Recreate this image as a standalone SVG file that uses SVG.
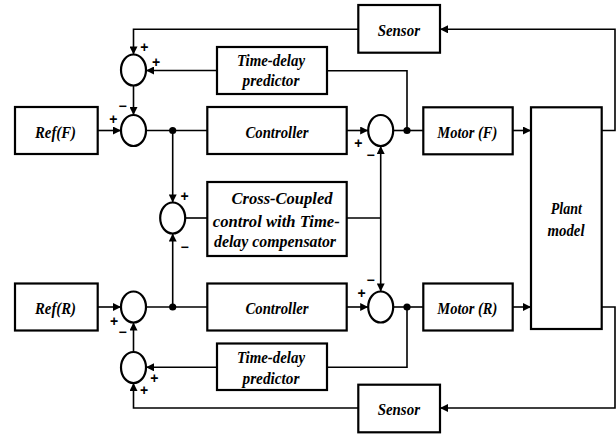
<svg xmlns="http://www.w3.org/2000/svg" width="616" height="434" viewBox="0 0 616 434">
<style>
.box{fill:#fff;stroke:#000;stroke-width:2.2}
.sum{fill:#fff;stroke:#000;stroke-width:2.2}
.ln{fill:none;stroke:#000;stroke-width:1.6}
.t{font-family:"Liberation Serif","Times New Roman",serif;font-weight:bold;font-style:italic;font-size:17px;text-anchor:middle;fill:#000}
.s{font-family:"Liberation Sans",Arial,sans-serif;font-weight:bold;font-size:14px;text-anchor:middle;fill:#000}
</style>
<defs>
<marker id="ah" viewBox="0 0 10 10" refX="10" refY="5" markerWidth="9" markerHeight="8" orient="auto" markerUnits="userSpaceOnUse"><path d="M0,0 L10,5 L0,10 z" fill="#000"/></marker>
</defs>
<rect width="616" height="434" fill="#fff"/>
<g id="connectors">
<path class="ln" d="M97.7,130.5 H121" marker-end="url(#ah)"/>
<path class="ln" d="M146,130.5 H207.3"/>
<path class="ln" d="M346.7,130.5 H368.2" marker-end="url(#ah)"/>
<path class="ln" d="M393.2,130.5 H423.3"/>
<path class="ln" d="M512.7,130.5 H531" marker-end="url(#ah)"/>
<path class="ln" d="M601.7,130.5 H615 V29.3 H440" marker-end="url(#ah)"/>
<path class="ln" d="M358.3,29.3 H133.5 V54.5" marker-end="url(#ah)"/>
<path class="ln" d="M407,130.5 V70.7 H327"/>
<path class="ln" d="M217,70.5 H146" marker-end="url(#ah)"/>
<path class="ln" d="M133.5,85.5 V115" marker-end="url(#ah)"/>
<path class="ln" d="M172.7,130.5 V202.5" marker-end="url(#ah)"/>
<path class="ln" d="M185.2,218 H207.3"/>
<path class="ln" d="M346.7,218 H380.7"/>
<path class="ln" d="M380.7,218 V146" marker-end="url(#ah)"/>
<path class="ln" d="M380.7,218 V291.5" marker-end="url(#ah)"/>
<path class="ln" d="M172.7,307 V233.5" marker-end="url(#ah)"/>
<path class="ln" d="M97.7,307 H121" marker-end="url(#ah)"/>
<path class="ln" d="M146,307 H207.3"/>
<path class="ln" d="M346.7,307 H368.2" marker-end="url(#ah)"/>
<path class="ln" d="M393.2,307 H423.3"/>
<path class="ln" d="M512.7,307 H531" marker-end="url(#ah)"/>
<path class="ln" d="M601.7,307 H615 V408 H440" marker-end="url(#ah)"/>
<path class="ln" d="M358.3,408 H133.5 V383" marker-end="url(#ah)"/>
<path class="ln" d="M407,307 V367.3 H327"/>
<path class="ln" d="M217,367.3 H146" marker-end="url(#ah)"/>
<path class="ln" d="M133.5,352 V322.5" marker-end="url(#ah)"/>
<circle cx="172.7" cy="130.5" r="3.6"/>
<circle cx="407" cy="130.5" r="3.6"/>
<circle cx="172.7" cy="307" r="3.6"/>
<circle cx="407" cy="307" r="3.6"/>
</g>
<g id="sum-top"><ellipse class="sum" cx="133.5" cy="70" rx="12.5" ry="15.5"/><text class="s" x="144.3" y="51.5">+</text><text class="s" x="156" y="67">+</text></g>
<g id="sum-f1"><ellipse class="sum" cx="133.5" cy="130.5" rx="12.5" ry="15.5"/><text class="s" x="122.7" y="111">−</text><text class="s" x="113.3" y="124">+</text></g>
<g id="sum-f2"><ellipse class="sum" cx="380.7" cy="130.5" rx="12.5" ry="15.5"/><text class="s" x="358.3" y="148">+</text><text class="s" x="370.7" y="160">−</text></g>
<g id="sum-cross"><ellipse class="sum" cx="172.7" cy="218" rx="12.5" ry="15.5"/><text class="s" x="184.7" y="201">+</text><text class="s" x="184.7" y="251.5">−</text></g>
<g id="sum-r1"><ellipse class="sum" cx="133.5" cy="307" rx="12.5" ry="15.5"/><text class="s" x="114" y="325.5">+</text><text class="s" x="122.7" y="337">−</text></g>
<g id="sum-r2"><ellipse class="sum" cx="380.7" cy="307" rx="12.5" ry="15.5"/><text class="s" x="370.7" y="285">−</text><text class="s" x="361.7" y="298">+</text></g>
<g id="sum-bottom"><ellipse class="sum" cx="133.5" cy="367.5" rx="12.5" ry="15.5"/><text class="s" x="154.3" y="383">+</text><text class="s" x="144" y="395">+</text></g>
<g id="ref-f"><rect class="box" x="15" y="107" width="82.7" height="47"/><text class="t" x="55.5" y="137.5" textLength="41" lengthAdjust="spacingAndGlyphs">Ref(F)</text></g>
<g id="ref-r"><rect class="box" x="15" y="283.5" width="82.7" height="47"/><text class="t" x="55.5" y="314" textLength="41" lengthAdjust="spacingAndGlyphs">Ref(R)</text></g>
<g id="tdp-top"><rect class="box" x="217" y="47" width="110" height="47"/><text class="t" x="271" y="65.5" textLength="68" lengthAdjust="spacingAndGlyphs">Time-delay</text><text class="t" x="271" y="86" textLength="57" lengthAdjust="spacingAndGlyphs">predictor</text></g>
<g id="tdp-bottom"><rect class="box" x="217" y="343.5" width="110" height="46.5"/><text class="t" x="271" y="362.8" textLength="68" lengthAdjust="spacingAndGlyphs">Time-delay</text><text class="t" x="271" y="384" textLength="57" lengthAdjust="spacingAndGlyphs">predictor</text></g>
<g id="controller-f"><rect class="box" x="207.3" y="107" width="139.4" height="47"/><text class="t" x="277" y="137.5" textLength="63" lengthAdjust="spacingAndGlyphs">Controller</text></g>
<g id="controller-r"><rect class="box" x="207.3" y="283.5" width="139.4" height="47"/><text class="t" x="277" y="314" textLength="63" lengthAdjust="spacingAndGlyphs">Controller</text></g>
<g id="cross"><rect class="box" x="207.3" y="182" width="139.4" height="74"/><text class="t" x="282" y="204" textLength="101" lengthAdjust="spacingAndGlyphs">Cross-Coupled</text><text class="t" x="276.3" y="226.5" textLength="127" lengthAdjust="spacingAndGlyphs">control with Time-</text><text class="t" x="275" y="247" textLength="122" lengthAdjust="spacingAndGlyphs">delay compensator</text></g>
<g id="sensor-top"><rect class="box" x="358.3" y="5" width="81.7" height="47.7"/><text class="t" x="398.8" y="36" textLength="42.3" lengthAdjust="spacingAndGlyphs">Sensor</text></g>
<g id="sensor-bottom"><rect class="box" x="358.3" y="384.7" width="81.7" height="47.6"/><text class="t" x="398.8" y="415" textLength="42.3" lengthAdjust="spacingAndGlyphs">Sensor</text></g>
<g id="motor-f"><rect class="box" x="423.3" y="107.3" width="89.4" height="47"/><text class="t" x="467.3" y="137.5" textLength="60" lengthAdjust="spacingAndGlyphs">Motor (F)</text></g>
<g id="motor-r"><rect class="box" x="423.3" y="283.5" width="89.4" height="47"/><text class="t" x="467.3" y="314" textLength="60" lengthAdjust="spacingAndGlyphs">Motor (R)</text></g>
<g id="plant"><rect class="box" x="531" y="107.3" width="70.7" height="221.7"/><text class="t" x="566.3" y="214" textLength="31" lengthAdjust="spacingAndGlyphs">Plant</text><text class="t" x="566" y="235.5" textLength="37" lengthAdjust="spacingAndGlyphs">model</text></g>
</svg>
